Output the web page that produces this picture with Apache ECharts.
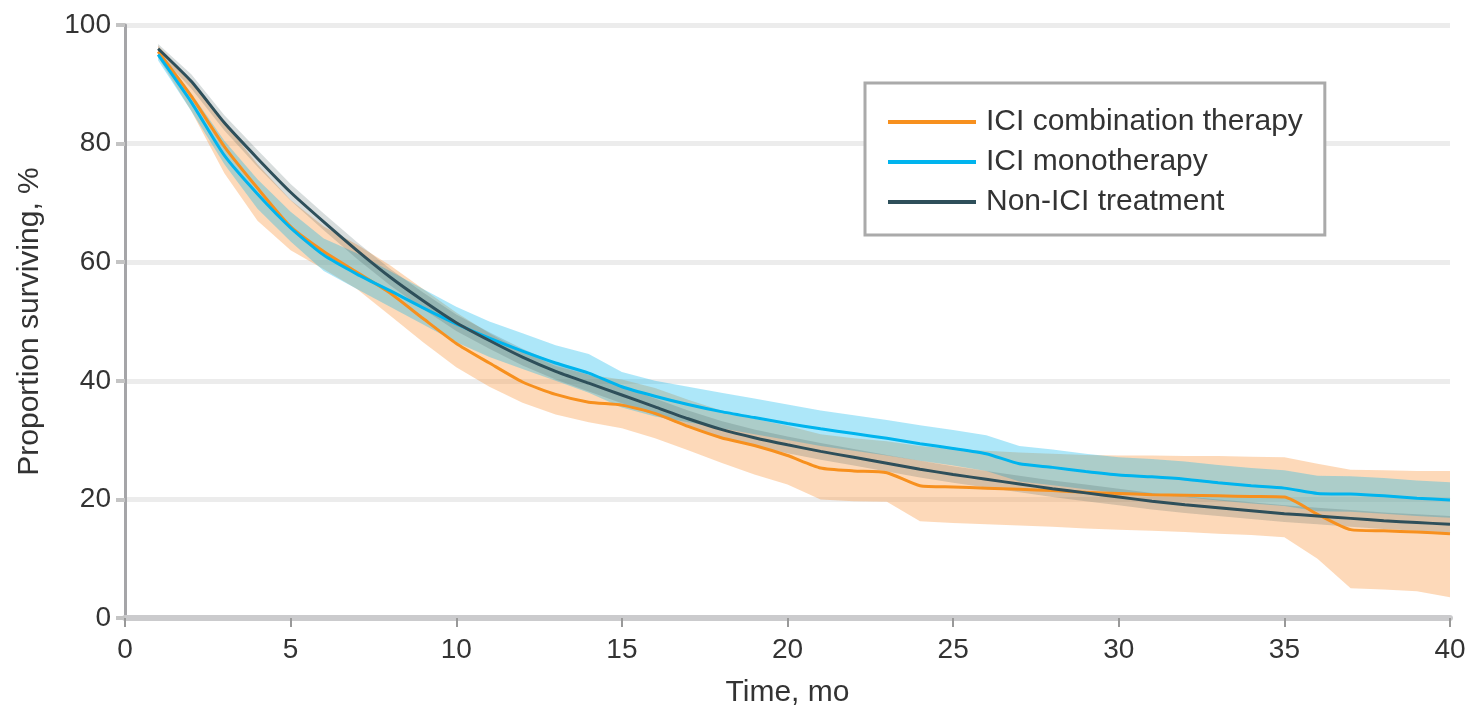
<!DOCTYPE html>
<html>
<head>
<meta charset="utf-8">
<script src="https://cdn.jsdelivr.net/npm/echarts@6/dist/echarts.min.js"></script>
<style>
  html, body { margin: 0; padding: 0; background: #fff; }
  #main { width: 1472px; height: 711px; }
</style>
</head>
<body>
<div id="main"></div>
<script>
// months
var months = [1, 2, 3, 4, 5, 6, 7, 8, 9, 10, 11, 12, 13, 14, 15, 16, 17, 18, 19, 20,
	21, 22, 23, 24, 25, 26, 27, 28, 29, 30, 31, 32, 33, 34, 35, 36, 37, 38, 39, 40];

// ICI combination therapy
var comboLine = [95.5, 88, 79.5, 72.5, 66, 61.8, 58.3, 54.8, 50.5, 46.3, 43, 39.8, 37.7, 36.4, 35.9, 34.5, 32.3, 30.4, 29.1, 27.4,
	25.3, 24.8, 24.5, 22.3, 22.1, 21.9, 21.7, 21.5, 21.2, 21, 20.8, 20.7, 20.6, 20.5, 20.4, 17.5, 14.9, 14.7, 14.5, 14.2];
var comboLow = [94.5, 85.5, 75, 67, 62, 58.8, 55.5, 51, 46.5, 42.3, 39, 36.3, 34.3, 33, 32, 30.3, 28.3, 26.2, 24.2, 22.5,
	20, 19.7, 19.6, 16.3, 16, 15.8, 15.6, 15.4, 15.1, 14.9, 14.7, 14.5, 14.2, 14, 13.6, 10, 5, 4.8, 4.5, 3.5];
var comboHigh = [96.5, 90.5, 83.5, 76.5, 70.5, 66, 63, 59.5, 55.5, 51.5, 48, 45, 42.5, 41, 40.2, 38.8, 36.8, 35, 33.6, 32.4,
	31, 30.3, 29.8, 29, 28.5, 28.2, 27.9, 27.7, 27.5, 27.4, 27.4, 27.3, 27.3, 27.2, 27.1, 26, 25, 24.9, 24.8, 24.8];

// ICI monotherapy
var monoLine = [95, 87, 78, 71.5, 65.8, 61.2, 58, 55.2, 52.3, 49.6, 47.2, 45, 43, 41.3, 39, 37.4, 36, 34.8, 33.8, 32.8,
	31.9, 31.1, 30.3, 29.4, 28.6, 27.7, 26, 25.4, 24.7, 24.1, 23.8, 23.4, 22.8, 22.3, 21.9, 21, 20.9, 20.6, 20.2, 19.9];
var monoLow = [94, 85.5, 76.5, 69, 63.5, 58.5, 55.5, 52.5, 49.5, 46.5, 44, 42, 40, 38, 35.5, 34, 33, 32, 31, 30,
	29, 28.2, 27.4, 26.5, 25.7, 24.8, 23, 22.4, 21.7, 21.1, 20.8, 20.4, 19.8, 19.3, 18.9, 18, 17.9, 17.6, 17.2, 16.9];
var monoHigh = [96, 88.5, 80.5, 74, 68.5, 64, 61.5, 58.5, 55.5, 52.5, 50, 48, 46, 44.5, 41.5, 40, 39, 38, 37, 36,
	35, 34.2, 33.4, 32.5, 31.7, 30.8, 29, 28.4, 27.7, 27.1, 26.8, 26.4, 25.8, 25.3, 24.9, 24, 23.9, 23.6, 23.2, 22.9];

// Non-ICI treatment
var nonLine = [96, 90.5, 83.5, 77.5, 71.8, 66.8, 62, 57.5, 53.5, 49.8, 46.8, 44, 41.6, 39.6, 37.6, 35.6, 33.6, 31.8, 30.4, 29.2,
	28.1, 27.1, 26.1, 25.1, 24.2, 23.4, 22.6, 21.8, 21.1, 20.4, 19.7, 19.1, 18.6, 18.1, 17.6, 17.2, 16.8, 16.4, 16.1, 15.8];
var nonLow = [95.2, 89.3, 82.2, 76.1, 70.4, 65.4, 60.6, 56.1, 52.1, 48.4, 45.4, 42.6, 40.2, 38.2, 36.2, 34.2, 32.2, 30.4, 29, 27.8,
	26.7, 25.7, 24.7, 23.7, 22.8, 22, 21.2, 20.4, 19.7, 19, 18.3, 17.7, 17.2, 16.7, 16.2, 15.8, 15.4, 15, 14.7, 14.4];
var nonHigh = [96.8, 91.7, 84.8, 78.9, 73.2, 68.2, 63.4, 58.9, 54.9, 51.2, 48.2, 45.4, 43, 41, 39, 37, 35, 33.2, 31.8, 30.6,
	29.5, 28.5, 27.5, 26.5, 25.6, 24.8, 24, 23.2, 22.5, 21.8, 21.1, 20.5, 20, 19.5, 19, 18.6, 18.2, 17.8, 17.5, 17.2];

var seriesNames = ['ICI combination therapy', 'ICI monotherapy', 'Non-ICI treatment'];
var xTicks = [0, 5, 10, 15, 20, 25, 30, 35, 40];
var yTicks = [0, 20, 40, 60, 80, 100];

var FONT = 'Liberation Sans';
var TEXT = '#333333';

function pairs(vals) {
	return months.map(function(m, i) { return [m, vals[i]]; });
}

// 置信区间: 一个 custom 多边形 (上沿 + 反向下沿)
function band(lo, hi, fill) {
	return {
		type: 'custom',
		silent: true,
		z: 1,
		data: months.map(function(m, i) { return [m, lo[i], hi[i]]; }),
		encode: { x: 0, y: [1, 2] },
		renderItem: function(params, api) {
			if (params.dataIndex !== 0) return;
			var pts = [];
			for (var i = 0; i < months.length; i++) pts.push(api.coord([months[i], hi[i]]));
			for (var j = months.length - 1; j >= 0; j--) pts.push(api.coord([months[j], lo[j]]));
			return {
				type: 'polygon',
				shape: { points: pts },
				style: { fill: fill }
			};
		}
	};
}
function curve(name, vals, color) {
	return {
		name: name, type: 'line', data: pairs(vals), symbol: 'none', smooth: 0.2,
		lineStyle: { color: color, width: 3 }, itemStyle: { color: color }, z: 3
	};
}

var myChart = echarts.init(document.getElementById('main'));

var option = {
	animation: false,
	grid: { left: 125, right: 22, top: 25, bottom: 93, outerBoundsMode: 'none' },
	legend: {
		data: seriesNames,
		orient: 'vertical',
		left: 865,
		top: 83,
		icon: 'rect',
		itemWidth: 88,
		itemHeight: 4,
		itemGap: 10,
		padding: [24, 22, 18, 23],
		backgroundColor: '#fff',
		borderColor: '#aaaaaa',
		borderWidth: 3,
		borderRadius: 0,
		textStyle: { fontFamily: FONT, fontSize: 30, color: TEXT, lineHeight: 30, padding: [0, 0, 0, 5] }
	},
	xAxis: {
		type: 'value',
		min: 0,
		max: 40,
		interval: 5,
		name: 'Time, mo',
		nameLocation: 'middle',
		nameGap: 60,
		nameTextStyle: { fontFamily: FONT, fontSize: 30, color: TEXT },
		axisLine: { show: true, lineStyle: { color: '#cbcbcd', width: 6 } },
		axisTick: { show: true, length: 9, lineStyle: { color: '#999999', width: 2 } },
		axisLabel: {
			fontFamily: FONT, fontSize: 28, color: TEXT, margin: 18,
			formatter: function(v) { return xTicks.indexOf(v) >= 0 ? String(v) : ''; }
		},
		splitLine: { show: false }
	},
	yAxis: {
		type: 'value',
		min: 0,
		max: 100,
		interval: 20,
		name: 'Proportion surviving, %',
		nameLocation: 'middle',
		nameGap: 80,
		nameTextStyle: { fontFamily: FONT, fontSize: 30, color: TEXT },
		axisLine: { show: true, lineStyle: { color: '#a5a5a8', width: 3 } },
		axisTick: { show: true, length: 9, lineStyle: { color: '#c4c4c4', width: 4 } },
		axisLabel: {
			fontFamily: FONT, fontSize: 28, color: TEXT, margin: 14,
			formatter: function(v) { return yTicks.indexOf(v) >= 0 ? String(v) : ''; }
		},
		splitLine: { show: true, lineStyle: { color: '#ececec', width: 5 } }
	},
	series: [
		band(comboLow, comboHigh, 'rgba(250,150,60,0.36)'),
		band(monoLow, monoHigh, 'rgba(0,180,235,0.32)'),
		band(nonLow, nonHigh, 'rgba(60,85,85,0.2)'),
		curve(seriesNames[0], comboLine, '#f7901e'),
		curve(seriesNames[1], monoLine, '#00b4ee'),
		curve(seriesNames[2], nonLine, '#2e4f5a')
	]
};
myChart.setOption(option);
</script>
</body>
</html>
